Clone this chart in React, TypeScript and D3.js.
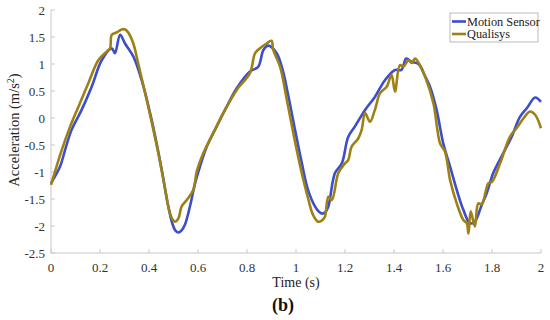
import React from 'react';
import * as d3 from 'd3';

// motion sensor trace (time s, acceleration m/s^2)
const motionTime = [0, 0.037, 0.057, 0.084, 0.125, 0.166, 0.207, 0.248, 0.261, 0.282, 0.302, 0.336, 0.37, 0.411, 0.452, 0.478, 0.495, 0.507, 0.52, 0.533, 0.547, 0.567, 0.588, 0.608, 0.636, 0.676, 0.717, 0.758, 0.812, 0.846, 0.867, 0.887, 0.921, 0.945, 0.967, 0.996, 1.024, 1.049, 1.078, 1.095, 1.108, 1.12, 1.132, 1.159, 1.187, 1.213, 1.24, 1.282, 1.322, 1.363, 1.404, 1.43, 1.45, 1.472, 1.5, 1.527, 1.547, 1.574, 1.601, 1.629, 1.656, 1.683, 1.71, 1.73, 1.758, 1.778, 1.805, 1.846, 1.88, 1.914, 1.942, 1.976, 2.0];
const motionAccel = [-1.21, -0.9, -0.6, -0.22, 0.15, 0.58, 1.07, 1.29, 1.2, 1.54, 1.38, 1.14, 0.7, -0.04, -0.96, -1.62, -1.95, -2.08, -2.12, -2.08, -1.97, -1.64, -1.21, -0.9, -0.53, -0.16, 0.21, 0.55, 0.86, 0.95, 1.26, 1.34, 1.2, 0.9, 0.45, -0.22, -0.84, -1.33, -1.64, -1.74, -1.77, -1.74, -1.64, -1.02, -0.84, -0.35, -0.16, 0.15, 0.39, 0.7, 0.89, 0.89, 1.1, 1.04, 1.0, 0.77, 0.58, 0.15, -0.47, -0.9, -1.33, -1.7, -1.95, -1.92, -1.61, -1.4, -1.02, -0.65, -0.35, 0.02, 0.18, 0.38, 0.3];

// qualisys trace
const qualisysTime = [0, 0.044, 0.078, 0.112, 0.152, 0.193, 0.227, 0.241, 0.248, 0.27, 0.289, 0.303, 0.316, 0.336, 0.356, 0.397, 0.438, 0.465, 0.482, 0.495, 0.506, 0.52, 0.533, 0.554, 0.581, 0.595, 0.622, 0.662, 0.703, 0.758, 0.812, 0.833, 0.853, 0.88, 0.9, 0.907, 0.935, 0.96, 0.99, 1.02, 1.05, 1.07, 1.09, 1.105, 1.118, 1.132, 1.146, 1.173, 1.2, 1.213, 1.227, 1.254, 1.268, 1.282, 1.302, 1.322, 1.343, 1.37, 1.39, 1.404, 1.424, 1.438, 1.459, 1.472, 1.486, 1.506, 1.527, 1.561, 1.588, 1.608, 1.629, 1.656, 1.683, 1.697, 1.704, 1.713, 1.73, 1.744, 1.758, 1.785, 1.8, 1.833, 1.873, 1.9, 1.928, 1.955, 1.976, 2.0];
const qualisysAccel = [-1.24, -0.59, -0.16, 0.21, 0.64, 1.07, 1.23, 1.29, 1.54, 1.59, 1.64, 1.64, 1.58, 1.38, 1.01, 0.21, -0.65, -1.3, -1.7, -1.87, -1.92, -1.86, -1.64, -1.52, -1.33, -0.99, -0.65, -0.28, 0.09, 0.52, 0.83, 1.2, 1.29, 1.38, 1.43, 1.26, 0.95, 0.4, -0.3, -0.95, -1.5, -1.8, -1.92, -1.9, -1.83, -1.46, -1.52, -1.02, -0.84, -0.78, -0.53, -0.38, -0.22, 0.09, -0.07, 0.15, 0.46, 0.58, 0.8, 0.49, 0.98, 0.95, 1.07, 1.02, 1.1, 0.98, 0.77, 0.27, -0.47, -0.62, -1.15, -1.58, -1.89, -1.95, -2.14, -1.73, -2.01, -1.58, -1.6, -1.21, -1.18, -0.84, -0.35, -0.19, -0.01, 0.12, 0.06, -0.19];

const xTicks = [0, 0.2, 0.4, 0.6, 0.8, 1, 1.2, 1.4, 1.6, 1.8, 2];
const yTicks = [2, 1.5, 1, 0.5, 0, -0.5, -1, -1.5, -2, -2.5];
const seriesNames = ['Motion Sensor', 'Qualisys'];
const seriesColors = ['#3c4ecb', '#9e8114'];

const font = '"Liberation Serif", "Times New Roman", serif';

const App = () => {
  const x = d3.scaleLinear().domain([0, 2]).range([51, 541]);
  const y = d3.scaleLinear().domain([-2.5, 2]).range([253, 10]);

  // smooth-ish like the dense sampled original
  const line = d3
    .line<[number, number]>()
    .x(d => x(d[0]))
    .y(d => y(d[1]))
    .curve(d3.curveCatmullRom.alpha(0.5));

  const series = [
    motionTime.map((t, i) => [t, motionAccel[i]] as [number, number]),
    qualisysTime.map((t, i) => [t, qualisysAccel[i]] as [number, number]),
  ];

  return (
    <svg width={550} height={320} style={{ position: 'absolute', left: 0, top: 0, background: '#fff' }} fontFamily={font}>
      {/* axes */}
      <line x1={x(0)} x2={x(2)} y1={y(-2.5)} y2={y(-2.5)} stroke="#c8c8c8" />
      <line x1={x(0)} x2={x(0)} y1={y(-2.5)} y2={y(2)} stroke="#c8c8c8" />
      {xTicks.map(t => (
        <g key={'x' + t}>
          <line x1={x(t)} x2={x(t)} y1={y(-2.5)} y2={y(-2.5) - 4} stroke="#c8c8c8" />
          <text x={x(t)} y={272} textAnchor="middle" fontSize={13} fill="#333">{t}</text>
        </g>
      ))}
      {yTicks.map(v => (
        <g key={'y' + v}>
          <line x1={x(0)} x2={x(0) + 4} y1={y(v)} y2={y(v)} stroke="#c8c8c8" />
          <text x={45} y={y(v) + 4.5} textAnchor="end" fontSize={13} fill="#333">{v}</text>
        </g>
      ))}

      {series.map((s, i) => (
        <path key={i} d={line(s) || ''} fill="none" stroke={seriesColors[i]} strokeWidth={2.6} strokeLinejoin="round" />
      ))}

      {/* labels */}
      <text x={296} y={287} textAnchor="middle" fontSize={14} fill="#222">Time (s)</text>
      <text x={283} y={311} textAnchor="middle" fontSize={18} fontWeight="bold" fill="#111">(b)</text>
      <text transform="translate(19,130) rotate(-90)" textAnchor="middle" fontSize={14.5} fill="#222">
        Acceleration (m/s<tspan dy={-5} fontSize={10}>2</tspan><tspan dy={5}>)</tspan>
      </text>

      {/* legend */}
      <rect x={450} y={13} width={88} height={29} fill="#fff" stroke="#aaa" strokeWidth={0.8} />
      {seriesNames.map((n, i) => (
        <g key={n}>
          <line x1={452} x2={466} y1={21.5 + i * 12.5} y2={21.5 + i * 12.5} stroke={seriesColors[i]} strokeWidth={2.6} />
          <text x={467} y={25.5 + i * 12.5} fontSize={12.3} fill="#222">{n}</text>
        </g>
      ))}
    </svg>
  );
};

export default App;
